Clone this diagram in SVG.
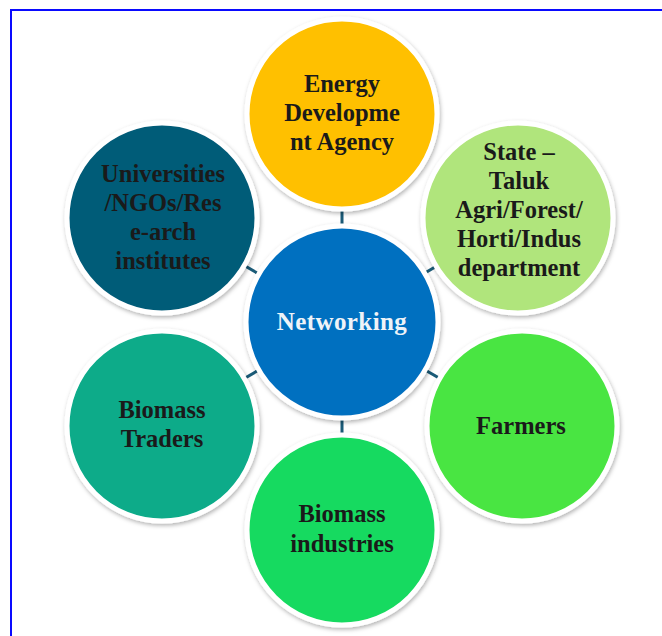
<svg xmlns="http://www.w3.org/2000/svg" width="662" height="636" viewBox="0 0 662 636">
  <style>
    .disc { stroke: #ffffff; stroke-width: 5; filter: url(#shade); }
    .label { font-family: "Liberation Serif", "Times New Roman", serif; font-weight: bold; font-size: 24.5px; fill: #1a1a1a; text-anchor: middle; }
    .hub-label { fill: #eef3f8; font-size: 25px; letter-spacing: 0.4px; }
    .link { stroke: #1a5b78; stroke-width: 3; }
  </style>
  <defs>
    <filter id="shade" x="-20%" y="-20%" width="140%" height="140%">
      <feDropShadow dx="1" dy="2" stdDeviation="2" flood-color="#000000" flood-opacity="0.3"/>
    </filter>
  </defs>

  <rect width="662" height="636" fill="#ffffff"/>
  <!-- frame -->
  <rect x="11" y="10" width="700" height="700" fill="none" stroke="#0a0aff" stroke-width="2"/>

  <!-- connectors from hub to each surrounding node -->
  <g id="connectors">
    <line class="link" x1="342" y1="322" x2="342" y2="114"/>
    <line class="link" x1="342" y1="322" x2="518" y2="218"/>
    <line class="link" x1="342" y1="322" x2="522" y2="426"/>
    <line class="link" x1="342" y1="322" x2="342" y2="530"/>
    <line class="link" x1="342" y1="322" x2="162" y2="426"/>
    <line class="link" x1="342" y1="322" x2="162" y2="218"/>
  </g>

  <g id="energy-agency">
    <circle class="disc" cx="342" cy="114" r="95" fill="#ffc000"/>
    <text class="label" x="342" y="92">Energy</text>
    <text class="label" x="342" y="121">Developme</text>
    <text class="label" x="342" y="150">nt Agency</text>
  </g>

  <g id="state-departments">
    <circle class="disc" cx="518" cy="218" r="95" fill="#b0e57c"/>
    <text class="label" x="519" y="160">State –</text>
    <text class="label" x="519" y="189">Taluk</text>
    <text class="label" x="519" y="218">Agri/Forest/</text>
    <text class="label" x="519" y="247">Horti/Indus</text>
    <text class="label" x="519" y="276">department</text>
  </g>

  <g id="farmers">
    <circle class="disc" cx="522" cy="426" r="95" fill="#4ae542"/>
    <text class="label" x="521" y="434">Farmers</text>
  </g>

  <g id="biomass-industries">
    <circle class="disc" cx="342" cy="530" r="95" fill="#17da60"/>
    <text class="label" x="342" y="522">Biomass</text>
    <text class="label" x="342" y="552">industries</text>
  </g>

  <g id="biomass-traders">
    <circle class="disc" cx="162" cy="426" r="95" fill="#0aab89"/>
    <text class="label" x="162" y="418">Biomass</text>
    <text class="label" x="162" y="447">Traders</text>
  </g>

  <g id="universities">
    <circle class="disc" cx="162" cy="218" r="95" fill="#045b78"/>
    <text class="label" x="163" y="182">Universities</text>
    <text class="label" x="163" y="211">/NGOs/Res</text>
    <text class="label" x="163" y="240">e-arch</text>
    <text class="label" x="163" y="269">institutes</text>
  </g>

  <g id="networking">
    <circle class="disc" cx="342" cy="322" r="96" fill="#0570c0"/>
    <text class="label hub-label" x="342" y="330">Networking</text>
  </g>
</svg>
